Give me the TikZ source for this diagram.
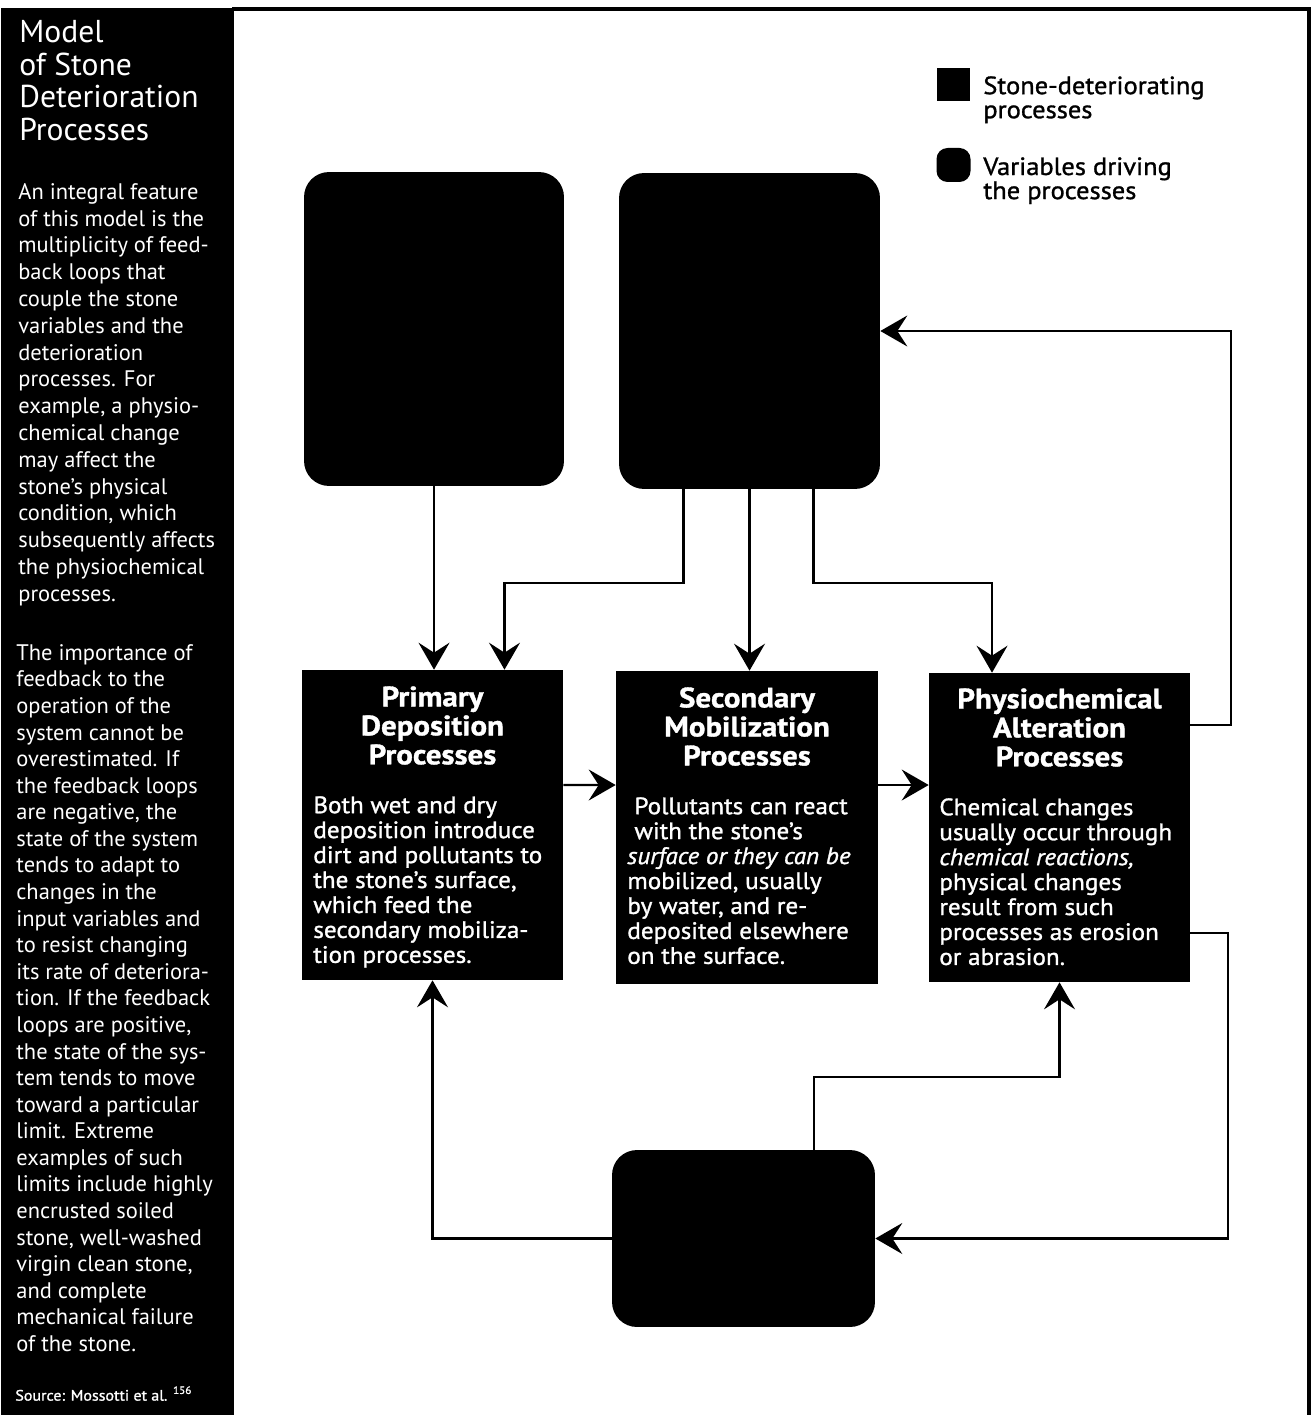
\documentclass[tikz,border=0pt]{standalone}
\usepackage{fontspec}
\setmainfont{PT Sans}
\newfontfamily\semibold[FakeBold=1.2, FakeStretch=1.06]{PT Sans}
\newfontfamily\heavy[FakeBold=1.2, FakeStretch=1.1]{PT Sans}
\usetikzlibrary{arrows.meta}

\begin{document}
\begin{tikzpicture}[x=0.02cm, y=-0.02cm,
    >={Stealth[length=0.54cm, width=0.62cm, inset=0.2cm]},
    flow/.style={->, line width=1.2pt},
    procbox/.style={fill=black, inner sep=0pt, minimum width=5.22cm, minimum height=6.2cm},
    varbox/.style={fill=black, inner sep=0pt, rounded corners=0.5cm},
    proctitle/.style={text=white, anchor=north, align=center, inner sep=0pt,
        font=\heavy\bfseries\fontsize{16}{16.5}\selectfont},
    procbody/.style={text=white, anchor=north west, align=left, inner sep=0pt,
        font=\semibold\fontsize{13.5}{14.2}\selectfont},
    paneltext/.style={text=white, anchor=north west, align=left, inner sep=0pt,
        font=\fontsize{12.8}{15.25}\selectfont},
    legtext/.style={anchor=north west, align=left, inner sep=0pt,
        font=\semibold\fontsize{14.2}{13.7}\selectfont}]
    \useasboundingbox (0,0) rectangle (1314,1415);

    % Side panel and frame
    \fill (1,8) rectangle (234,1415);
    \draw[line width=2.2pt] (232,9) -- (1309,9) -- (1309,1415);

    \node[paneltext, font=\fontsize{18}{18.5}\selectfont] (title) at (19,20.5)
        {Model\\of Stone\\Deterioration\\Processes};
    \node[paneltext] (intro) at (18,183) {An integral feature\\of this model is the\\multiplicity of feed-\\back loops that\\couple the stone\\variables and the\\deterioration\\processes. For\\example, a physio-\\chemical change\\may affect the\\stone’s physical\\condition, which\\subsequently affects\\the physiochemical\\processes.};
    \node[paneltext, font=\fontsize{12.8}{15.13}\selectfont] (feedback) at (16,644) {The importance of\\feedback to the\\operation of the\\system cannot be\\overestimated. If\\the feedback loops\\are negative, the\\state of the system\\tends to adapt to\\changes in the\\input variables and\\to resist changing\\its rate of deteriora-\\tion. If the feedback\\loops are positive,\\the state of the sys-\\tem tends to move\\toward a particular\\limit. Extreme\\examples of such\\limits include highly\\encrusted soiled\\stone, well-washed\\virgin clean stone,\\and complete\\mechanical failure\\of the stone.};
    \node[paneltext, font=\semibold\fontsize{8.6}{10}\selectfont] (source) at (15,1386)
        {Source: Mossotti et al. \textsuperscript{156}};

    % Legend
    \node[fill=black, minimum size=0.66cm, inner sep=0pt] (keyproc) at (953.5,84.5) {};
    \node[fill=black, minimum size=0.68cm, inner sep=0pt, rounded corners=0.22cm] (keyvar) at (953.5,165) {};
    \node[legtext] (keyproctext) at (983,76) {Stone-deteriorating\\processes};
    \node[legtext] (keyvartext) at (983,157) {Variables driving\\the processes};

    % Variables
    \node[varbox, minimum width=5.2cm, minimum height=6.28cm] (varL) at (434,329) {};
    \node[varbox, minimum width=5.22cm, minimum height=6.32cm] (varR) at (749.5,331) {};
    \node[varbox, minimum width=5.26cm, minimum height=3.54cm] (varB) at (743.5,1238.5) {};

    % Processes
    \node[procbox] (prim) at (432.5,825) {};
    \node[proctitle] at (432.5,686) {Primary\\Deposition\\Processes};
    \node[procbody] at (313,796) {Both wet and dry\\deposition introduce\\dirt and pollutants to\\the stone’s surface,\\which feed the\\secondary mobiliza-\\tion processes.};

    \node[procbox, minimum width=5.24cm, minimum height=6.26cm] (sec) at (747,827.5) {};
    \node[proctitle] at (747,687) {Secondary\\Mobilization\\Processes};
    \node[procbody] at (627,797) {\hspace{0.3em}Pollutants can react\\\hspace{0.3em}with the stone’s\\\textit{surface or they can be}\\mobilized, usually\\by water, and re-\\deposited elsewhere\\on the surface.};

    \node[procbox, minimum height=6.18cm] (phys) at (1059.5,827.5) {};
    \node[proctitle] at (1059.5,688) {Physiochemical\\Alteration\\Processes};
    \node[procbody] at (939,798) {Chemical changes\\usually occur through\\\textit{chemical reactions,}\\physical changes\\result from such\\processes as erosion\\or abrasion.};

    % Connectors
    \draw[flow] (varL.south) -- (varL.south |- prim.north);
    \draw[flow] ([xshift=-1.32cm]varR.south) -- ++(0,94) -| ([xshift=1.44cm]prim.north);
    \draw[flow] (varR.south) -- (varR.south |- sec.north);
    \draw[flow] ([xshift=1.28cm]varR.south) -- ++(0,94) -| ([xshift=-1.35cm]phys.north);
    \draw[flow] ([yshift=0.8cm]prim.east) -- ([yshift=0.85cm]sec.west);
    \draw[flow] ([yshift=0.85cm]sec.east) -- ([yshift=0.85cm]phys.west);
    \draw[flow] ([yshift=2.05cm]phys.east) -- ++(41,0) |- (varR.east);
    \draw[flow] ([yshift=-2.11cm]phys.east) -- ++(38,0) |- (varB.east);
    \draw[flow] ([xshift=1.41cm]varB.north) -- ++(0,-73) -| (phys.south);
    \draw[flow] (varB.west) -| (prim.south);
\end{tikzpicture}
\end{document}
